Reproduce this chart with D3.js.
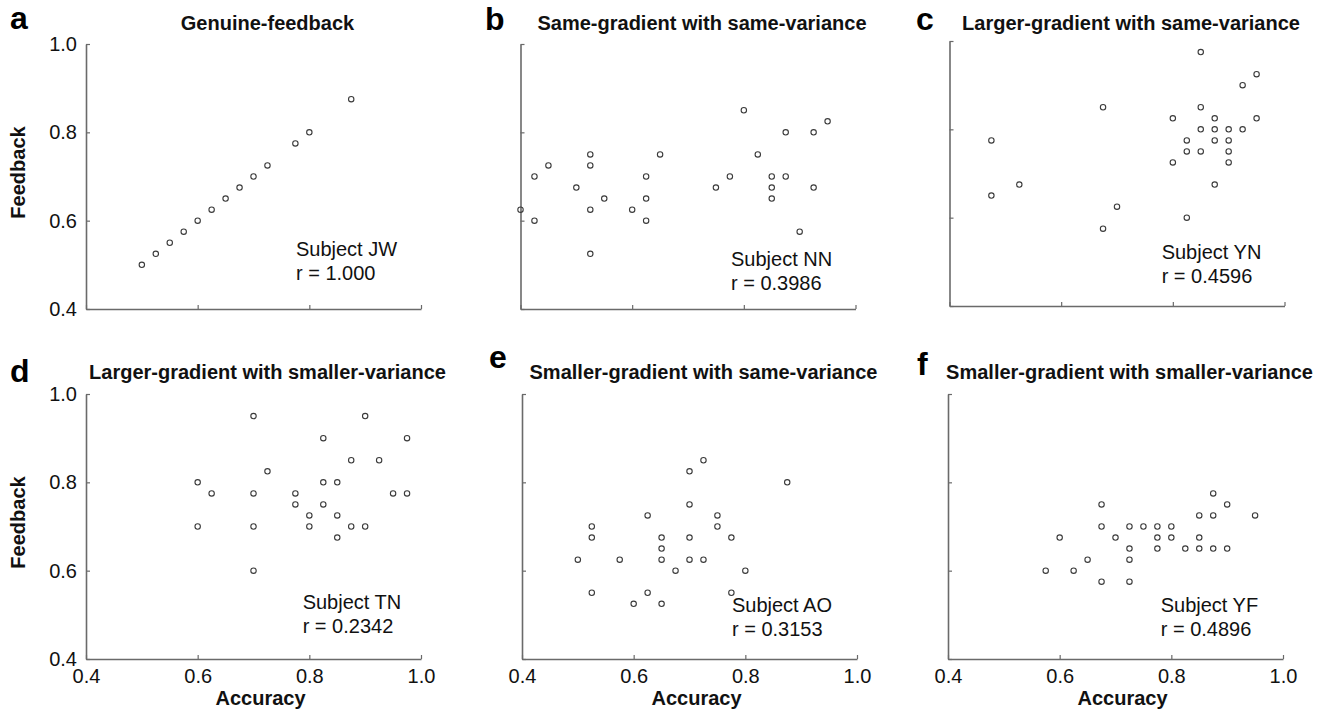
<!DOCTYPE html>
<html>
<head>
<meta charset="utf-8">
<script src="https://cdn.jsdelivr.net/npm/d3@7"></script>
<style>
  body { margin: 0; background: #fff; }
  svg { display: block; font-family: Arial, "Liberation Sans", sans-serif; }
</style>
</head>
<body>
<svg id="fig" width="1333" height="712"></svg>
<script>
// ---- data ----
const panelLetters = ["a", "b", "c", "d", "e", "f"];
const panelTitles = [
  "Genuine-feedback",
  "Same-gradient with same-variance",
  "Larger-gradient with same-variance",
  "Larger-gradient with smaller-variance",
  "Smaller-gradient with same-variance",
  "Smaller-gradient with smaller-variance"
];
const subjects = ["JW", "NN", "YN", "TN", "AO", "YF"];
const rValues = ["1.000", "0.3986", "0.4596", "0.2342", "0.3153", "0.4896"];
const tickValues = [0.4, 0.6, 0.8, 1.0];
const xAxisLabel = "Accuracy";
const yAxisLabel = "Feedback";

// [accuracy, feedback] per subject
const ptsA = [[0.5,0.5],[0.525,0.525],[0.55,0.55],[0.575,0.575],[0.6,0.6],[0.625,0.625],
  [0.65,0.65],[0.675,0.675],[0.7,0.7],[0.725,0.725],[0.775,0.775],[0.8,0.8],[0.875,0.875]];
const ptsB = [[0.4,0.625],[0.425,0.7],[0.425,0.6],[0.45,0.725],[0.5,0.675],[0.525,0.75],
  [0.525,0.725],[0.525,0.625],[0.525,0.525],[0.55,0.65],[0.6,0.625],[0.625,0.7],[0.625,0.65],
  [0.625,0.6],[0.65,0.75],[0.75,0.675],[0.775,0.7],[0.8,0.85],[0.825,0.75],[0.85,0.7],
  [0.85,0.675],[0.85,0.65],[0.875,0.8],[0.875,0.7],[0.9,0.575],[0.925,0.8],[0.925,0.675],
  [0.95,0.825]];
const ptsC = [[0.475,0.775],[0.475,0.65],[0.525,0.675],[0.675,0.85],[0.675,0.575],[0.7,0.625],
  [0.85,0.975],[0.95,0.925],[0.925,0.9],[0.85,0.85],[0.8,0.825],[0.875,0.825],[0.95,0.825],
  [0.85,0.8],[0.875,0.8],[0.9,0.8],[0.925,0.8],[0.825,0.775],[0.875,0.775],[0.9,0.775],
  [0.825,0.75],[0.85,0.75],[0.9,0.75],[0.8,0.725],[0.9,0.725],[0.875,0.675],[0.825,0.6]];
const ptsD = [[0.7,0.95],[0.9,0.95],[0.825,0.9],[0.975,0.9],[0.875,0.85],[0.925,0.85],
  [0.725,0.825],[0.6,0.8],[0.825,0.8],[0.85,0.8],[0.625,0.775],[0.7,0.775],[0.775,0.775],
  [0.95,0.775],[0.975,0.775],[0.775,0.75],[0.825,0.75],[0.8,0.725],[0.85,0.725],[0.6,0.7],
  [0.7,0.7],[0.8,0.7],[0.875,0.7],[0.9,0.7],[0.85,0.675],[0.7,0.6]];
const ptsE = [[0.725,0.85],[0.7,0.825],[0.875,0.8],[0.7,0.75],[0.625,0.725],[0.75,0.725],
  [0.525,0.7],[0.75,0.7],[0.525,0.675],[0.65,0.675],[0.7,0.675],[0.775,0.675],[0.65,0.65],
  [0.5,0.625],[0.575,0.625],[0.65,0.625],[0.7,0.625],[0.725,0.625],[0.675,0.6],[0.8,0.6],
  [0.525,0.55],[0.625,0.55],[0.775,0.55],[0.6,0.525],[0.65,0.525]];
const ptsF = [[0.875,0.775],[0.675,0.75],[0.9,0.75],[0.85,0.725],[0.875,0.725],[0.95,0.725],
  [0.675,0.7],[0.725,0.7],[0.75,0.7],[0.775,0.7],[0.8,0.7],[0.6,0.675],[0.7,0.675],
  [0.775,0.675],[0.8,0.675],[0.85,0.675],[0.725,0.65],[0.775,0.65],[0.825,0.65],[0.85,0.65],
  [0.875,0.65],[0.9,0.65],[0.65,0.625],[0.725,0.625],[0.575,0.6],[0.625,0.6],[0.675,0.575],
  [0.725,0.575]];
const panelPoints = [ptsA, ptsB, ptsC, ptsD, ptsE, ptsF];

// ---- layout ----
const W = 335, H = 265;
const frames = [
  { left: 86,    top: 44,  letter: [10, 29],  note: [0.776, 0.52],  yLab: true,  xLab: false },
  { left: 520.5, top: 44,  letter: [485, 30], note: [0.777, 0.497], yLab: false, xLab: false },
  { left: 949.5, top: 41,  letter: [916, 30], note: [0.780, 0.506], yLab: false, xLab: false },
  { left: 86,    top: 394, letter: [10, 382], note: [0.788, 0.513], yLab: true,  xLab: true },
  { left: 522,   top: 394, letter: [489, 368],note: [0.776, 0.507], yLab: false, xLab: true },
  { left: 948,   top: 394, letter: [917, 375],note: [0.781, 0.507], yLab: false, xLab: true }
];
const titleBaselines = [30, 30, 30, 379, 379, 379];
const axisColor = "#6a6a6a";

const svg = d3.select("#fig");

frames.forEach((f, i) => {
  const x = d3.scaleLinear().domain([0.4, 1.0]).range([0, W]);
  const y = d3.scaleLinear().domain([0.4, 1.0]).range([H, 0]);
  const g = svg.append("g").attr("transform", `translate(${f.left},${f.top})`);

  // axes with inward ticks
  const xAxis = d3.axisBottom(x).tickValues(tickValues).tickSizeInner(-4).tickSizeOuter(0)
    .tickPadding(10).tickFormat(f.xLab ? d3.format(".1f") : () => "");
  const yAxis = d3.axisLeft(y).tickValues(tickValues).tickSizeInner(-4).tickSizeOuter(0)
    .tickPadding(9).tickFormat(f.yLab ? d3.format(".1f") : () => "");

  const gx = g.append("g").attr("transform", `translate(0,${H})`).call(xAxis);
  const gy = g.append("g").call(yAxis);
  [gx, gy].forEach(a => {
    a.select(".domain").attr("stroke", axisColor).attr("stroke-width", 1.6);
    a.selectAll(".tick line").attr("stroke", axisColor).attr("stroke-width", 1.2);
    a.selectAll(".tick text").attr("fill", "#111").attr("font-size", 20)
      .attr("font-family", "Arial, 'Liberation Sans', sans-serif");
  });
  gx.selectAll(".tick text").attr("dy", "0.71em");

  // scatter points
  g.selectAll("circle").data(panelPoints[i]).join("circle")
    .attr("cx", d => x(d[0])).attr("cy", d => y(d[1])).attr("r", 2.7)
    .attr("fill", "none").attr("stroke", "#3a3a3a").attr("stroke-width", 1.1);

  // subject annotation
  const nt = g.append("text").attr("x", x(f.note[0])).attr("y", y(f.note[1]))
    .attr("font-size", 20).attr("fill", "#111");
  nt.append("tspan").text(`Subject ${subjects[i]}`);
  nt.append("tspan").attr("x", x(f.note[0])).attr("dy", 24).text(`r = ${rValues[i]}`);

  // title
  svg.append("text").attr("x", f.left + W / 2 + 14).attr("y", titleBaselines[i])
    .attr("text-anchor", "middle").attr("font-size", 20).attr("font-weight", "bold")
    .attr("fill", "#111").text(panelTitles[i]);

  // panel letter
  svg.append("text").attr("x", f.letter[0]).attr("y", f.letter[1])
    .attr("font-size", 32).attr("font-weight", "bold").attr("fill", "#000")
    .text(panelLetters[i]);

  if (f.yLab) {
    svg.append("text")
      .attr("transform", `translate(${f.left - 61},${f.top + H / 2 - 4}) rotate(-90)`)
      .attr("text-anchor", "middle").attr("font-size", 20).attr("font-weight", "bold")
      .attr("fill", "#111").text(yAxisLabel);
  }
  if (f.xLab) {
    svg.append("text").attr("x", f.left + W / 2 + 7).attr("y", f.top + H + 46)
      .attr("text-anchor", "middle").attr("font-size", 20).attr("font-weight", "bold")
      .attr("fill", "#111").text(xAxisLabel);
  }
});
</script>
</body>
</html>
